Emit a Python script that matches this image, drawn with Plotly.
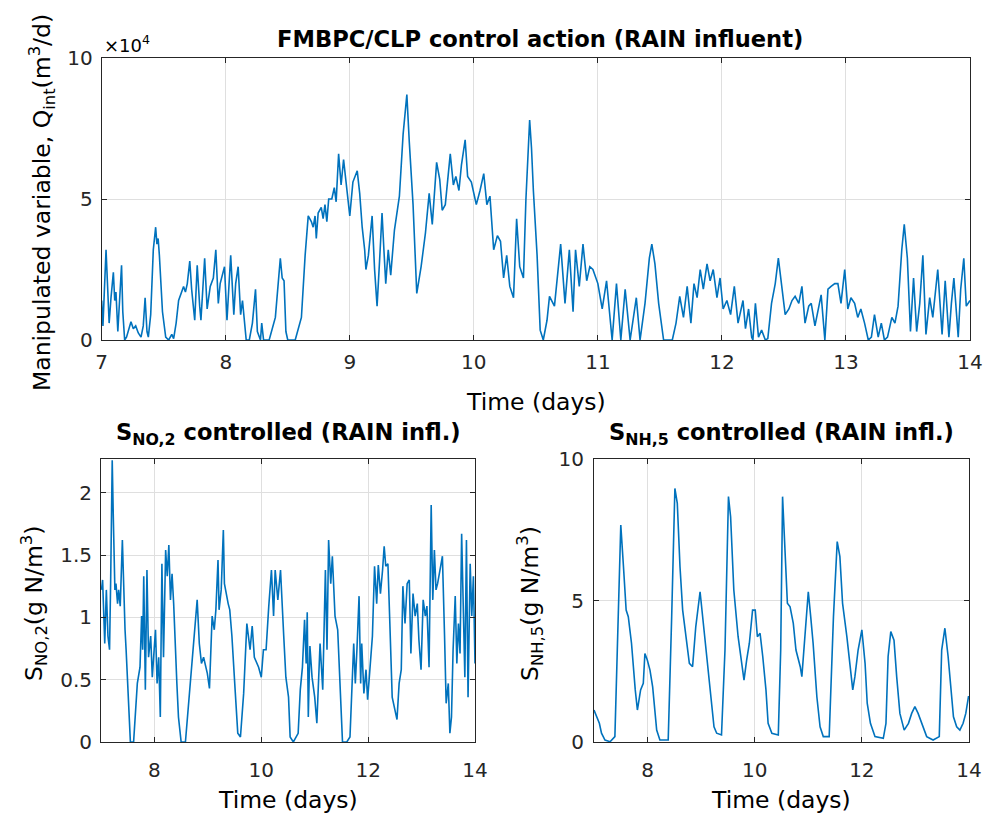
import plotly.graph_objects as go

# ---------------- data ----------------
# Top: manipulated variable Q_int, in units of 1e4 m3/d
t_q = [7.00,7.01,7.035,7.05,7.06,7.075,7.094,7.105,7.115,7.13,7.16,7.17,7.185,7.20,7.215,7.236,7.255,7.274,7.295,7.317,
       7.335,7.35,7.365,7.376,7.395,7.416,7.435,7.445,7.455,7.465,7.49,7.516,7.54,7.565,7.58,7.60,7.62,7.635,7.66,7.675,
       7.69,7.71,7.725,7.75,7.77,7.79,7.80,7.83,7.85,7.875,7.90,7.92,7.94,7.955,7.99,8.01,8.04,8.065,8.08,8.10,
       8.12,8.135,8.15,8.165,8.19,8.215,8.24,8.255,8.28,8.29,8.305,8.35,8.40,8.425,8.44,8.455,8.47,8.485,8.50,8.56,
       8.61,8.64,8.665,8.69,8.705,8.72,8.73,8.745,8.77,8.785,8.80,8.815,8.83,8.855,8.875,8.89,8.91,8.93,8.95,8.97,
       8.985,9.00,9.025,9.06,9.08,9.10,9.12,9.13,9.15,9.18,9.20,9.22,9.24,9.26,9.275,9.29,9.31,9.33,9.36,9.40,
       9.43,9.46,9.48,9.51,9.54,9.575,9.61,9.64,9.665,9.70,9.725,9.745,9.77,9.81,9.835,9.855,9.88,9.90,9.93,9.95,
       9.98,10.00,10.02,10.05,10.08,10.105,10.13,10.16,10.19,10.215,10.24,10.265,10.29,10.32,10.345,10.37,10.40,10.42,10.45,10.465,
       10.48,10.51,10.535,10.56,10.59,10.61,10.65,10.70,10.735,10.77,10.80,10.82,10.85,10.88,10.91,10.935,10.96,11.00,11.035,11.07,
       11.10,11.115,11.15,11.185,11.22,11.26,11.31,11.34,11.38,11.415,11.435,11.46,11.49,11.51,11.53,11.60,11.63,11.66,11.69,11.72,
       11.75,11.775,11.80,11.825,11.85,11.88,11.905,11.93,11.96,11.985,12.01,12.04,12.07,12.10,12.13,12.17,12.19,12.215,12.24,12.25,
       12.27,12.295,12.32,12.35,12.37,12.40,12.43,12.455,12.48,12.51,12.54,12.565,12.59,12.62,12.645,12.67,12.70,12.72,12.75,12.775,
       12.80,12.83,12.855,12.88,12.91,12.935,12.96,12.99,13.015,13.04,13.07,13.095,13.12,13.15,13.18,13.205,13.23,13.26,13.285,13.31,
       13.335,13.37,13.395,13.42,13.45,13.47,13.495,13.52,13.545,13.57,13.595,13.62,13.645,13.675,13.70,13.74,13.775,13.80,13.83,13.85,
       13.87,13.905,13.925,13.95,13.97,14.00]
q_int = [1.4,0.5,3.2,1.8,0.6,1.5,2.4,1.4,1.7,0.3,2.65,1.0,0.0,0.1,0.35,0.65,0.4,0.5,0.25,0.1,
         0.5,1.5,0.3,0.1,0.9,3.2,4.0,3.4,3.6,3.0,1.0,0.1,0.0,0.2,0.05,0.6,1.4,1.6,1.9,1.7,
         2.0,2.8,1.8,0.7,2.65,1.2,0.7,2.9,1.1,1.9,2.2,3.2,1.3,2.0,2.6,0.7,3.0,0.9,2.0,2.6,
         0.9,1.4,0.6,0.0,0.0,0.6,1.8,0.3,0.0,0.6,0.0,0.0,0.8,2.2,2.9,2.2,2.1,0.3,0.0,0.0,
         0.8,3.0,4.4,4.2,4.0,4.4,3.6,4.5,4.7,4.3,4.8,4.2,5.0,5.0,5.4,4.9,6.6,5.5,6.4,5.6,
         5.0,4.4,5.6,6.0,5.2,4.0,3.2,2.5,3.0,4.4,2.5,1.2,2.8,4.5,3.2,2.0,3.2,2.3,3.9,5.1,
         7.3,8.7,7.0,4.8,1.65,2.6,3.8,5.2,4.1,6.3,5.7,4.6,4.8,6.6,5.5,5.8,5.3,6.2,7.1,5.8,
         5.6,5.2,4.8,5.3,5.9,4.8,5.1,3.2,3.7,3.5,2.2,3.0,1.9,1.5,4.3,2.6,2.2,5.0,7.8,6.8,
         5.3,3.0,0.35,0.0,0.7,1.55,1.2,3.4,1.3,3.2,1.0,3.2,1.9,3.4,2.1,2.6,2.5,2.0,1.1,2.1,
         0.8,0.0,2.0,0.0,1.8,0.0,1.5,0.0,1.3,2.9,3.4,2.7,1.3,0.6,0.0,0.0,0.6,1.55,0.8,1.9,
         0.6,2.0,1.5,2.5,1.8,2.7,2.1,2.5,1.5,2.2,1.1,1.4,0.9,1.9,0.6,1.4,0.4,1.1,0.1,0.0,
         1.3,0.1,0.35,0.0,0.05,1.3,2.0,2.9,2.0,0.9,1.1,1.4,1.55,1.3,1.9,0.6,1.2,1.3,0.5,1.1,
         1.6,0.0,1.8,1.9,2.0,2.0,1.3,2.5,1.1,1.5,1.3,0.8,1.1,0.6,0.0,0.1,0.9,0.1,0.6,0.0,
         0.1,0.8,0.6,1.2,3.2,4.1,2.9,0.3,2.2,0.3,1.3,3.0,0.2,1.5,0.8,2.5,0.2,2.1,0.1,1.3,
         2.2,0.1,1.8,2.9,1.2,1.4]

# Bottom left: S_NO,2 (g N/m3)
t_no2 = [7.01,7.03,7.07,7.10,7.13,7.16,7.18,7.21,7.23,7.26,7.28,7.31,7.33,7.36,7.40,7.42,7.45,7.47,7.51,7.55,
         7.61,7.68,7.73,7.76,7.78,7.80,7.83,7.86,7.89,7.93,7.96,7.99,8.02,8.05,8.08,8.11,8.14,8.17,8.21,8.24,
         8.27,8.30,8.33,8.36,8.39,8.42,8.45,8.50,8.58,8.64,8.70,8.77,8.80,8.84,8.88,8.92,8.99,9.03,9.08,9.12,
         9.15,9.19,9.21,9.25,9.29,9.31,9.35,9.38,9.41,9.45,9.51,9.56,9.61,9.67,9.73,9.79,9.83,9.87,9.95,10.00,
         10.04,10.09,10.14,10.19,10.23,10.26,10.31,10.36,10.42,10.46,10.51,10.54,10.60,10.69,10.73,10.77,10.81,10.84,10.86,10.88,
         10.91,10.95,11.00,11.04,11.10,11.15,11.20,11.23,11.26,11.30,11.33,11.38,11.43,11.48,11.52,11.60,11.66,11.73,11.76,11.79,
         11.83,11.86,11.88,11.92,11.96,11.99,12.04,12.08,12.12,12.16,12.19,12.23,12.27,12.30,12.33,12.37,12.41,12.45,12.50,12.54,
         12.58,12.62,12.65,12.69,12.73,12.77,12.80,12.84,12.88,12.92,12.95,12.99,13.03,13.07,13.10,13.14,13.18,13.21,13.24,13.27,
         13.30,13.35,13.39,13.43,13.46,13.50,13.53,13.56,13.59,13.63,13.66,13.69,13.72,13.75,13.78,13.81,13.84,13.87,13.91,13.94,
         13.97,14.00]
s_no2 = [1.22,1.30,0.79,1.22,0.85,0.74,1.27,2.26,1.81,1.22,1.27,1.11,1.22,1.09,1.62,1.27,0.90,0.74,0.31,0.00,
         0.00,0.47,0.60,1.01,0.74,1.33,0.42,1.38,0.68,0.85,0.52,0.74,0.90,0.47,0.68,0.20,1.43,0.68,1.54,1.33,
         1.58,1.14,1.35,1.11,0.74,0.47,0.20,0.00,0.00,0.31,0.63,0.95,1.14,0.79,0.63,0.68,0.55,0.43,1.01,0.90,
         1.06,1.46,1.06,1.22,1.70,1.27,1.17,1.11,1.06,0.85,0.42,0.07,0.04,0.39,0.95,0.74,0.93,0.68,0.60,0.52,
         0.74,0.74,1.09,1.38,1.01,1.38,1.14,1.38,0.85,0.52,0.36,0.04,0.00,0.07,0.42,0.60,0.98,0.63,1.04,0.20,
         0.77,0.52,0.36,0.15,0.79,0.42,1.38,0.74,1.62,1.27,1.49,1.01,0.90,0.31,0.00,0.00,0.04,0.79,0.47,0.74,
         1.17,0.47,0.79,0.39,0.58,0.34,0.63,0.85,1.41,1.11,1.42,1.19,1.38,1.57,1.41,1.43,0.90,0.36,0.26,0.18,
         0.47,0.58,1.25,0.95,1.27,1.30,0.71,1.19,1.01,1.11,0.82,0.58,1.14,1.01,1.09,0.60,1.90,1.14,1.54,1.22,
         1.27,1.38,1.49,0.85,0.31,0.47,0.07,0.20,0.74,1.17,0.63,0.95,0.71,1.67,0.95,0.52,1.62,0.36,1.43,1.01,
         1.33,0.63]

# Bottom right: S_NH,5 (g N/m3)
t_nh5 = [7.00,7.05,7.10,7.14,7.205,7.30,7.39,7.435,7.50,7.55,7.60,7.64,7.70,7.77,7.81,7.85,7.87,7.92,7.95,7.995,
         8.045,8.095,8.14,8.17,8.23,8.385,8.45,8.51,8.555,8.605,8.655,8.72,8.78,8.84,8.90,8.98,9.04,9.115,9.18,9.24,
         9.29,9.38,9.445,9.51,9.55,9.61,9.69,9.80,9.85,9.90,9.96,10.01,10.05,10.10,10.15,10.21,10.25,10.32,10.44,10.485,
         10.52,10.565,10.61,10.66,10.72,10.77,10.85,10.88,10.94,11.00,11.045,11.09,11.16,11.22,11.28,11.39,11.47,11.54,11.59,11.64,
         11.72,11.78,11.83,11.87,11.93,12.00,12.06,12.10,12.16,12.245,12.40,12.45,12.49,12.54,12.60,12.65,12.71,12.79,12.87,12.93,
         12.99,13.05,13.12,13.21,13.33,13.445,13.49,13.55,13.61,13.66,13.71,13.77,13.83,13.89,13.94,13.99,14.00]
s_nh5 = [1.13,0.89,0.66,0.31,0.07,0.01,0.19,3.25,7.67,6.20,4.66,4.43,3.49,1.84,1.13,1.60,1.84,2.07,3.13,2.90,
         2.54,1.95,1.13,0.42,0.07,0.07,4.43,8.96,8.43,6.20,4.66,3.72,2.78,2.66,4.08,5.31,4.19,3.02,1.84,0.54,
         0.31,0.25,3.25,8.67,7.96,5.37,3.72,2.19,2.90,3.49,4.66,4.66,3.72,3.84,3.02,1.84,0.66,0.31,0.25,3.25,
         8.67,6.78,4.90,4.78,4.19,3.25,2.66,2.31,3.96,5.31,4.43,3.49,1.60,0.54,0.19,0.19,4.43,7.08,6.55,4.90,
         3.72,2.78,1.84,2.31,3.25,3.96,2.78,1.37,0.66,0.19,0.13,0.66,3.02,3.90,3.60,2.31,1.01,0.42,0.66,1.01,
         1.25,1.01,0.66,0.19,0.07,0.19,3.25,4.02,3.02,1.84,0.89,0.54,0.42,0.66,1.01,1.60,1.60]

top_xticks = [7, 8, 9, 10, 11, 12, 13, 14]
top_yticks = [0, 5, 10]
bl_xticks = [8, 10, 12, 14]
bl_yticks = [0, 0.5, 1, 1.5, 2]
br_xticks = [8, 10, 12, 14]
br_yticks = [0, 5, 10]

# ---------------- figure ----------------
W, H = 988, 821
LINE = "#0072BD"
AX = "#262626"
GRID = "#dfdfdf"
FONT = "DejaVu Sans, Liberation Sans, Arial, sans-serif"
TICK = 20
LBL = 23.5
TTL = 22.6

def px(x):
    return x / W

def py(y):
    return 1 - y / H

fig = go.Figure()
for xs, ys, xa, ya in [(t_q, q_int, "x", "y"), (t_no2, s_no2, "x2", "y2"), (t_nh5, s_nh5, "x3", "y3")]:
    fig.add_trace(go.Scatter(x=xs, y=ys, mode="lines", line=dict(color=LINE, width=1.6),
                             xaxis=xa, yaxis=ya, showlegend=False, hoverinfo="skip"))

def axis(domain, rng, ticks, anchor, standoff):
    return dict(domain=domain, range=rng, tickvals=ticks, ticktext=[str(v) for v in ticks],
                showline=True, linecolor=AX, linewidth=1, mirror="ticks",
                ticks="inside", ticklen=5, tickcolor=AX, showgrid=True, gridcolor=GRID,
                gridwidth=1, zeroline=False, anchor=anchor, fixedrange=True, automargin=False,
                ticklabelstandoff=standoff,
                tickfont=dict(family=FONT, size=TICK, color=AX))

top_x = [px(101.7), px(970)]
top_y = [py(340), py(58)]
bl_x = [px(101), px(475)]
br_x = [px(594), px(969)]
bot_y = [py(742), py(459)]

fig.update_layout(
    template="none",
    width=W, height=H, margin=dict(l=0, r=0, t=0, b=0, pad=0, autoexpand=False),
    paper_bgcolor="white", plot_bgcolor="white",
    font=dict(family=FONT, color=AX),
    xaxis=axis(top_x, [7, 14], top_xticks, "y", 4),
    yaxis=axis(top_y, [0, 10], top_yticks, "x", 4),
    xaxis2=axis(bl_x, [7, 14], bl_xticks, "y2", 10),
    yaxis2=axis(bot_y, [0, 2.27], bl_yticks, "x2", 4),
    xaxis3=axis(br_x, [7, 14], br_xticks, "y3", 10),
    yaxis3=axis(bot_y, [0, 10], br_yticks, "x3", 5),
)

ann = []
def text(x, y, s, size=LBL, angle=0, bold=False, xanchor="center"):
    ann.append(dict(x=px(x), y=py(y), xref="paper", yref="paper", text=("<b>%s</b>" % s) if bold else s,
                    showarrow=False, textangle=angle, xanchor=xanchor, yanchor="middle",
                    font=dict(family=FONT, size=size, color="#000000")))

text(540, 39, "FMBPC/CLP control action (RAIN influent)", size=TTL, bold=True)
text(536, 402, "Time (days)")
text(42, 203, "Manipulated variable, Q<sub>int</sub>(m<sup>3</sup>/d)", angle=-90)
text(102, 44, "×10<sup>4</sup>", size=18, xanchor="left")

text(288, 434, "S<sub>NO,2</sub> controlled (RAIN infl.)", size=TTL, bold=True)
text(288, 800, "Time (days)")
text(34, 604, "S<sub>NO,2</sub>(g N/m<sup>3</sup>)", angle=-90)

text(781, 434, "S<sub>NH,5</sub> controlled (RAIN infl.)", size=TTL, bold=True)
text(781, 800, "Time (days)")
text(530, 604, "S<sub>NH,5</sub>(g N/m<sup>3</sup>)", angle=-90)

fig.update_layout(annotations=ann)
fig.write_html("out.html")
